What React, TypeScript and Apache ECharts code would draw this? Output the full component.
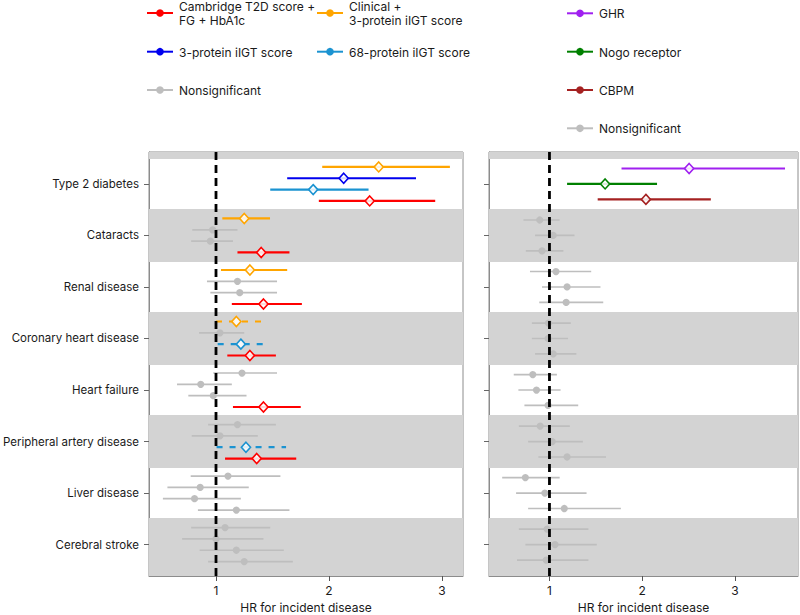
import React, { useEffect, useRef } from "react";
import * as echarts from "echarts";

// ---------- data ----------
const diseases = [
  "Type 2 diabetes",
  "Cataracts",
  "Renal disease",
  "Coronary heart disease",
  "Heart failure",
  "Peripheral artery disease",
  "Liver disease",
  "Cerebral stroke",
];
const xTicks = [1, 2, 3];

// status: 1 = significant, 0 = nonsignificant, 2 = significant (dashed)
// Left panel models (row order top -> bottom)
const clinical3pHR = [2.44, 1.25, 1.3, 1.18, 1.23, 1.19, 1.106, 1.08];
const clinical3pLo = [1.94, 1.056, 1.044, 1.0, 0.976, 0.93, 0.776, 0.78];
const clinical3pHi = [3.07, 1.478, 1.63, 1.41, 1.54, 1.53, 1.57, 1.48];
const clinical3pSt = [1, 1, 1, 2, 0, 0, 0, 0];

const protein3HR = [2.13, 0.97, 1.19, 1.035, 0.865, 1.035, 0.86, 1.0];
const protein3Lo = [1.63, 0.79, 0.92, 0.85, 0.655, 0.785, 0.57, 0.7];
const protein3Hi = [2.77, 1.19, 1.54, 1.25, 1.14, 1.37, 1.29, 1.42];
const protein3St = [1, 0, 0, 0, 0, 0, 0, 0];

const protein68HR = [1.86, 0.95, 1.21, 1.22, 0.976, 1.265, 0.81, 1.18];
const protein68Lo = [1.48, 0.78, 0.95, 1.015, 0.755, 1.005, 0.53, 0.855];
const protein68Hi = [2.35, 1.15, 1.54, 1.46, 1.27, 1.62, 1.22, 1.6];
const protein68St = [1, 0, 0, 2, 0, 2, 0, 0];

const cambridgeHR = [2.36, 1.4, 1.42, 1.3, 1.42, 1.36, 1.18, 1.25];
const cambridgeLo = [1.91, 1.19, 1.14, 1.1, 1.15, 1.08, 0.84, 0.93];
const cambridgeHi = [2.94, 1.65, 1.76, 1.53, 1.75, 1.71, 1.65, 1.68];
const cambridgeSt = [1, 1, 1, 1, 1, 1, 0, 0];

// Right panel proteins
const ghrHR = [2.506, 0.895, 1.07, 0.99, 0.82, 0.9, 0.74, 0.975];
const ghrLo = [1.777, 0.72, 0.79, 0.81, 0.615, 0.67, 0.49, 0.67];
const ghrHi = [3.54, 1.11, 1.45, 1.23, 1.08, 1.22, 1.11, 1.42];
const ghrSt = [1, 0, 0, 0, 0, 0, 0, 0];

const nogoHR = [1.6, 1.04, 1.19, 0.985, 0.86, 1.03, 0.95, 1.06];
const nogoLo = [1.19, 0.845, 0.92, 0.81, 0.665, 0.77, 0.64, 0.74];
const nogoHi = [2.16, 1.27, 1.55, 1.2, 1.12, 1.36, 1.4, 1.51];
const nogoSt = [1, 0, 0, 0, 0, 0, 0, 0];

const cbpmHR = [2.04, 0.92, 1.18, 1.04, 0.985, 1.19, 1.16, 0.965];
const cbpmLo = [1.52, 0.745, 0.89, 0.845, 0.73, 0.88, 0.77, 0.65];
const cbpmHi = [2.74, 1.15, 1.58, 1.29, 1.31, 1.61, 1.77, 1.42];
const cbpmSt = [1, 0, 0, 0, 0, 0, 0, 0];

// ---------- styles ----------
const FONT = "Inter, 'Noto Sans', sans-serif";
const GREY = "#BEBEBE";
const BAND = "#D3D3D3";
const Y_MIN = -0.62;
const Y_MAX = 7.61;

function errorSeries(
  name: string,
  color: string,
  hr: number[],
  lo: number[],
  hi: number[],
  st: number[],
  offset: number,
  axisIndex: number
) {
  return {
    type: "custom",
    name,
    xAxisIndex: axisIndex,
    yAxisIndex: axisIndex,
    z: 3,
    clip: true,
    data: hr.map((v, i) => [v, lo[i], hi[i], i + offset, st[i]]),
    encode: { x: [0, 1, 2], y: 3 },
    renderItem: (params: any, api: any) => {
      const y = api.value(3);
      const s = api.value(4);
      const p0 = api.coord([api.value(1), y]);
      const p1 = api.coord([api.value(2), y]);
      const pc = api.coord([api.value(0), y]);
      const c = s === 0 ? GREY : color;
      const children: any[] = [
        {
          type: "line",
          shape: { x1: p0[0], y1: p0[1], x2: p1[0], y2: p1[1] },
          style: {
            stroke: c,
            lineWidth: s === 0 ? 1.7 : 2.2,
            lineDash: s === 2 ? [6, 7] : null,
          },
        },
      ];
      if (s === 0) {
        children.push({
          type: "circle",
          shape: { cx: pc[0], cy: pc[1], r: 3.6 },
          style: { fill: GREY, stroke: null },
        });
      } else {
        const w = 4.6;
        const h = 5;
        children.push({
          type: "polygon",
          shape: {
            points: [
              [pc[0], pc[1] - h],
              [pc[0] + w, pc[1]],
              [pc[0], pc[1] + h],
              [pc[0] - w, pc[1]],
            ],
          },
          style: { fill: "rgba(255,255,255,0.85)", stroke: color, lineWidth: 1.6 },
        });
      }
      return { type: "group", children };
    },
  };
}

function bandSeries(axisIndex: number) {
  const bands: number[][] = [];
  for (let i = -1; i < diseases.length; i += 2) {
    bands.push([i - 0.515, i === diseases.length - 1 ? Y_MAX : i + 0.515]);
  }
  return {
    type: "custom",
    xAxisIndex: axisIndex,
    yAxisIndex: axisIndex,
    z: 1,
    clip: true,
    silent: true,
    data: bands,
    encode: { y: [0, 1] },
    renderItem: (params: any, api: any) => {
      const cs = params.coordSys;
      const a = api.coord([1, api.value(0)]);
      const b = api.coord([1, api.value(1)]);
      const y0 = Math.max(Math.min(a[1], b[1]), cs.y);
      const y1 = Math.min(Math.max(a[1], b[1]), cs.y + cs.height);
      return {
        type: "rect",
        shape: { x: cs.x, y: y0, width: cs.width, height: y1 - y0 },
        style: { fill: BAND },
      };
    },
  };
}

function refLine(axisIndex: number) {
  return {
    type: "line",
    xAxisIndex: axisIndex,
    yAxisIndex: axisIndex,
    z: 5,
    symbol: "none",
    silent: true,
    data: [
      [1, Y_MIN],
      [1, Y_MAX],
    ],
    lineStyle: { color: "#000", width: 2.8, type: [8, 5] },
  };
}

function legendItem(x: number, y: number, color: string, label: string) {
  return [
    {
      type: "line",
      shape: { x1: x, y1: y, x2: x + 26, y2: y },
      style: { stroke: color, lineWidth: 2 },
    },
    {
      type: "circle",
      shape: { cx: x + 13, cy: y, r: 3.8 },
      style: { fill: color },
    },
    {
      type: "text",
      x: x + 32,
      y: y + 0.5,
      style: {
        text: label,
        font: `12px ${FONT}`,
        fill: "#1a1a1a",
        verticalAlign: "middle",
        lineHeight: 14,
      },
    },
  ];
}

export default function App() {
  const ref = useRef<HTMLDivElement>(null);
  useEffect(() => {
    if (!ref.current) return;
    const chart = echarts.init(ref.current, null, { renderer: "svg" });

    const xAxisBase = (min: number, max: number, gridIndex: number) => ({
      type: "value",
      gridIndex,
      min,
      max,
      name: "HR for incident disease",
      nameLocation: "middle",
      nameGap: 25,
      nameTextStyle: { fontFamily: FONT, fontSize: 12, color: "#1a1a1a" },
      axisLine: { show: true, onZero: false, lineStyle: { color: "#8c8c8c", width: 1 } },
      axisTick: {
        show: true,
        length: 5,
        customValues: xTicks,
        lineStyle: { color: "#555", width: 1 },
      },
      axisLabel: {
        customValues: xTicks,
        margin: 8,
        fontFamily: FONT,
        fontSize: 12,
        color: "#1a1a1a",
      },
      splitLine: { show: false },
    });

    const yAxisBase = (gridIndex: number, showLabels: boolean) => ({
      type: "value",
      gridIndex,
      min: Y_MIN,
      max: Y_MAX,
      inverse: true,
      axisLine: { show: true, onZero: false, lineStyle: { color: "#8c8c8c", width: 1 } },
      axisTick: {
        show: true,
        length: 5,
        customValues: diseases.map((_, i) => i),
        lineStyle: { color: "#666", width: 1 },
      },
      axisLabel: {
        show: showLabels,
        customValues: diseases.map((_, i) => i),
        formatter: (v: number) => diseases[Math.round(v)] ?? "",
        margin: 10,
        fontFamily: FONT,
        fontSize: 11.5,
        color: "#1a1a1a",
      },
      splitLine: { show: false },
    });

    const gridBase = {
      top: 152,
      height: 424,
      show: true,
      borderColor: "#8c8c8c",
      borderWidth: 1,
      backgroundColor: "#fff",
      containLabel: false,
      outerBoundsMode: "none",
    };

    const option: any = {
      animation: false,
      backgroundColor: "#fff",
      textStyle: { fontFamily: FONT },
      grid: [
        { ...gridBase, left: 149, width: 314 },
        { ...gridBase, left: 489, width: 309 },
      ],
      xAxis: [xAxisBase(0.407, 3.186, 0), xAxisBase(0.348, 3.68, 1)],
      yAxis: [yAxisBase(0, true), yAxisBase(1, false)],
      series: [
        bandSeries(0),
        bandSeries(1),
        errorSeries("Clinical + 3-protein iIGT score", "#FFA500", clinical3pHR, clinical3pLo, clinical3pHi, clinical3pSt, -0.33, 0),
        errorSeries("3-protein iIGT score", "#0000EE", protein3HR, protein3Lo, protein3Hi, protein3St, -0.11, 0),
        errorSeries("68-protein iIGT score", "#1B93D1", protein68HR, protein68Lo, protein68Hi, protein68St, 0.11, 0),
        errorSeries("Cambridge T2D score + FG + HbA1c", "#FF0000", cambridgeHR, cambridgeLo, cambridgeHi, cambridgeSt, 0.33, 0),
        errorSeries("GHR", "#A020F0", ghrHR, ghrLo, ghrHi, ghrSt, -0.3, 1),
        errorSeries("Nogo receptor", "#008000", nogoHR, nogoLo, nogoHi, nogoSt, 0, 1),
        errorSeries("CBPM", "#A52121", cbpmHR, cbpmLo, cbpmHi, cbpmSt, 0.3, 1),
        refLine(0),
        refLine(1),
      ],
      graphic: [
        ...legendItem(147, 13, "#FF0000", "Cambridge T2D score +\nFG + HbA1c"),
        ...legendItem(317, 13, "#FFA500", "Clinical +\n3-protein iIGT score"),
        ...legendItem(147, 51.7, "#0000EE", "3-protein iIGT score"),
        ...legendItem(317, 51.7, "#1B93D1", "68-protein iIGT score"),
        ...legendItem(147, 90, GREY, "Nonsignificant"),
        ...legendItem(567, 13.3, "#A020F0", "GHR"),
        ...legendItem(567, 51.7, "#008000", "Nogo receptor"),
        ...legendItem(567, 90, "#A52121", "CBPM"),
        ...legendItem(567, 128.3, GREY, "Nonsignificant"),
      ],
    };
    chart.setOption(option);
    return () => chart.dispose();
  }, []);

  return (
    <div
      ref={ref}
      style={{ position: "fixed", left: 0, top: 0, width: 800, height: 615 }}
    />
  );
}
